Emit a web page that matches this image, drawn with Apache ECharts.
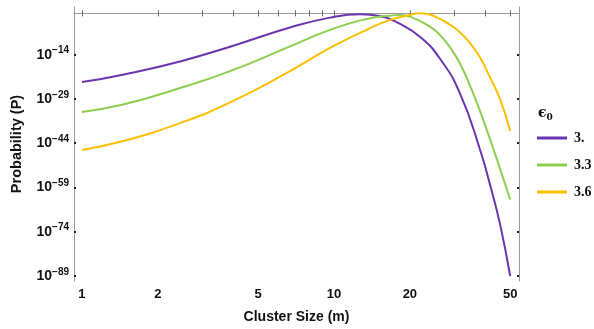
<!DOCTYPE html>
<html>
<head>
<meta charset="utf-8">
<script src="https://cdn.jsdelivr.net/npm/echarts@6/dist/echarts.min.js"></script>
<style>
  html, body { margin: 0; padding: 0; background: #fff; }
  #chart { width: 594px; height: 329px; }
</style>
</head>
<body>
<div id="chart"></div>
<script>
// exponents are log10(P)
const purpleSizes = [1, 1.47, 2.45, 3.87, 6.69, 9.64, 12.7, 15.2, 18.3, 21.9, 26.3, 31.6, 38, 41.6, 45.6, 50]
const purpleExp = [-23.3, -20.7, -16.3, -11.3, -4.8, -1.45, -0.3, -0.9, -3.6, -7.9, -15.3, -27.1, -46.3, -58.1, -71.5, -89]

const greenSizes = [1, 1.47, 2.45, 3.87, 6.69, 9.64, 13.9, 16.7, 18.3, 20, 24, 26.3, 28.9, 31.6, 34.6, 38, 41.6, 45.6, 50]
const greenExp = [-33.4, -30.8, -25.3, -19.6, -11.2, -5.6, -1.65, -0.8, -0.55, -1.1, -4.5, -7.3, -11.6, -17.0, -24.4, -33.2, -42.6, -52.7, -63.1]

const orangeSizes = [1, 1.47, 2.45, 3.87, 6.69, 9.64, 13.9, 16.7, 20, 21.9, 24, 26.3, 28.9, 31.6, 34.6, 38, 41.6, 45.6, 50]
const orangeExp = [-46.3, -43.2, -37.2, -30.2, -19.6, -11.7, -5.0, -2.2, -0.55, 0.05, -0.4, -1.9, -3.9, -6.4, -10.0, -15.0, -21.7, -29.1, -39.9]

const seriesNames = ["3.", "3.3", "3.6"]
const seriesColors = ["#6b35b0", "#8ccf4d", "#fdbf00"]

const xLabels = [1, 2, 5, 10, 20, 50]
const xTicks = [1, 2, 3, 4, 5, 6, 7, 8, 9, 10, 20, 30, 40, 50]
const yTicks = [-14, -29, -44, -59, -74, -89]

const FRAME = "#9a9a9a"

const chart = echarts.init(document.getElementById("chart"), null, { renderer: "canvas" })

function pairs(xs, ys) {
  return xs.map((x, i) => [x, ys[i]])
}

function powerLabel(value) {
  return `{b|10}{s|${String(value).replace("-", "\u2212")}}`
}

const xBase = {
  type: "log",
  logBase: 10,
  min: 0.93,
  max: 54.2,
  axisLine: { lineStyle: { color: FRAME, width: 1 } },
  axisTick: { inside: true, length: 3, customValues: xTicks, lineStyle: { color: "#666" } },
  splitLine: { show: false },
  minorTick: { show: false }
}

const yBase = {
  type: "value",
  min: -90.7,
  max: 2.15,
  axisLine: { show: true, lineStyle: { color: FRAME, width: 1 } },
  axisTick: { show: true, inside: true, length: 2, customValues: yTicks, lineStyle: { color: "#222", width: 2 } },
  splitLine: { show: false }
}

chart.setOption({
  animation: false,
  textStyle: { fontFamily: "Liberation Sans, Arial, sans-serif" },
  title: {
    text: "{e|\u03f5}{s|0}",
    left: 533,
    top: 100,
    textStyle: {
      rich: {
        e: { fontFamily: "DejaVu Serif", fontSize: 14, fontWeight: "bold", color: "#111" },
        s: { fontFamily: "DejaVu Serif", fontSize: 9, fontWeight: "bold", color: "#111", verticalAlign: "bottom", padding: [8, 0, 0, 0] }
      }
    }
  },
  legend: {
    orient: "vertical",
    left: 537,
    top: 131,
    padding: 0,
    icon: "rect",
    itemWidth: 30,
    itemHeight: 3,
    itemGap: 13,
    data: seriesNames,
    textStyle: { fontFamily: "Liberation Serif, Times New Roman, serif", fontWeight: "bold", fontSize: 14, color: "#111", padding: [0, 0, 0, 2] }
  },
  grid: { left: 74, right: 75, top: 7, bottom: 46 },
  xAxis: [
    {
      ...xBase,
      position: "bottom",
      name: "Cluster Size (m)",
      nameLocation: "middle",
      nameGap: 29,
      nameTextStyle: { fontSize: 14, fontWeight: "bold", color: "#111" },
      axisLabel: { customValues: xLabels, margin: 7, fontSize: 13, fontWeight: "bold", color: "#111" }
    },
    {
      ...xBase,
      position: "top",
      axisLabel: { show: false }
    }
  ],
  yAxis: [
    {
      ...yBase,
      position: "left",
      name: "Probability (P)",
      nameLocation: "middle",
      nameGap: 50,
      nameTextStyle: { fontSize: 14.5, fontWeight: "bold", color: "#111" },
      axisLabel: {
        customValues: yTicks,
        margin: 5,
        formatter: powerLabel,
        rich: {
          b: { fontSize: 14, fontWeight: "bold", color: "#111" },
          s: { fontSize: 10, fontWeight: "bold", color: "#111", verticalAlign: "top", padding: [0, 0, 8, 0] }
        }
      }
    },
    {
      ...yBase,
      position: "right",
      axisLabel: { show: false }
    }
  ],
  series: [
    [purpleSizes, purpleExp],
    [greenSizes, greenExp],
    [orangeSizes, orangeExp]
  ].map(([xs, ys], i) => ({
    name: seriesNames[i],
    type: "line",
    smooth: 0.5,
    showSymbol: false,
    color: seriesColors[i],
    lineStyle: { width: 2, color: seriesColors[i] },
    data: pairs(xs, ys)
  }))
})
</script>
</body>
</html>
